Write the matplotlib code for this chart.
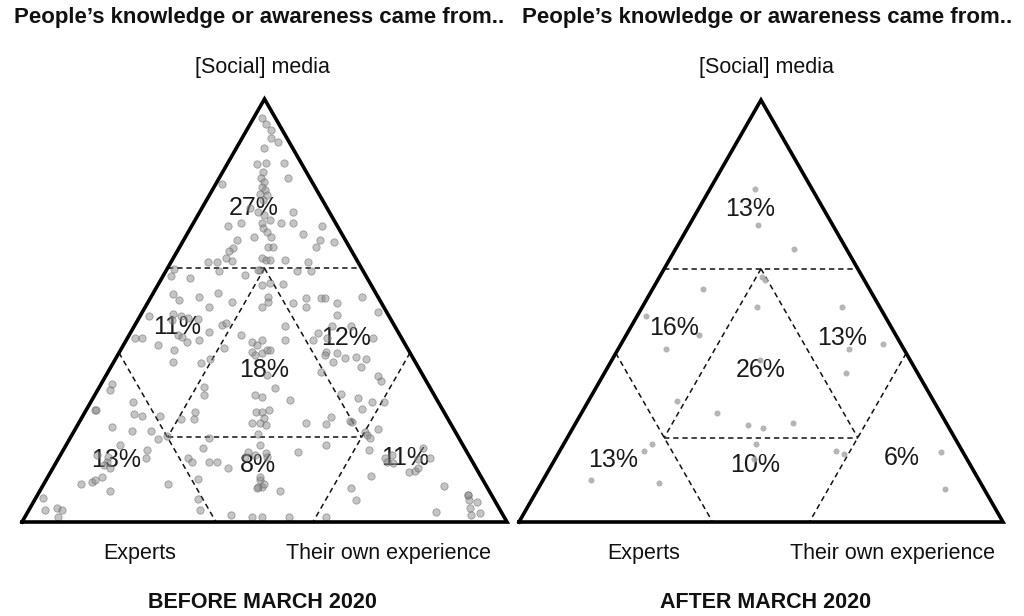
import numpy as np
import matplotlib
matplotlib.use("Agg")
import matplotlib.pyplot as plt

plt.rcParams['font.family'] = ['Liberation Sans', 'DejaVu Sans']

# Ternary shares in percent: media (top), experience (bottom right); experts = rest
before_media = [
    95.6, 94.0, 92.7, 90.7, 89.8, 88.3, 84.6, 84.9, 84.9, 82.8, 81.3, 80.3, 81.3, 79.8, 79.3, 78.5,
    77.5, 77.3, 76.1, 74.2, 73.4, 72.6, 71.4, 70.6, 73.2, 70.8, 70.8, 70.8, 70.0, 69.4, 68.6, 70.0,
    68.0, 67.4, 67.4, 66.7, 66.7, 66.3, 64.7, 64.1, 65.1, 65.1, 65.1, 62.3, 61.8, 61.5, 61.5, 62.5,
    61.9, 61.9, 61.9, 61.5,
    59.6, 59.4, 58.4, 59.4, 59.4, 57.6, 56.0, 56.4, 56.2, 53.3, 54.1, 53.3, 52.1, 52.1, 52.9, 52.9,
    52.9, 51.7, 50.9, 50.9, 51.7, 50.9, 59.8, 58.2, 53.8, 52.5, 59.6, 53.3, 48.8, 49.2, 48.8, 48.2,
    47.9, 45.0, 46.6, 47.1, 47.8, 44.2, 43.8, 42.6, 43.4, 43.4, 41.8, 40.7, 43.0, 41.1, 44.2, 42.6,
    41.8, 43.0, 40.3, 39.5, 39.9, 40.7, 40.7, 37.8, 37.5, 38.5, 32.6, 31.2, 32.0, 30.0, 30.0, 29.6,
    26.5, 26.5, 28.4, 25.5, 25.1, 25.1, 24.3, 24.3, 26.1, 26.1, 26.1, 26.5, 23.5, 23.5, 24.5, 22.9,
    22.4, 21.5, 21.5, 19.6, 20.3, 19.8, 48.9, 46.3, 43.0, 44.6, 43.0, 40.3, 39.5, 37.9, 39.9, 35.4,
    34.8, 31.6, 28.8, 23.5, 23.2, 24.8, 20.8, 49.6, 46.3, 46.3, 43.4, 43.4, 38.7, 39.1, 38.5, 36.6,
    34.5, 33.3, 30.2, 29.2, 28.4, 28.4, 26.7, 23.9, 23.6, 21.9, 21.3, 20.6, 19.9,
    18.2, 18.2, 17.0, 17.4, 16.6, 15.8, 15.8, 15.4, 14.3, 13.5, 12.7, 15.1, 15.1, 14.3, 14.3, 14.3,
    12.7, 9.5, 9.9, 10.7, 9.0, 7.3, 9.0, 10.1, 9.9, 8.3, 5.6, 2.8, 3.2, 2.8, 1.3, 5.4,
    2.8, 1.7, 1.3, 1.3, 18.2, 16.6, 16.2, 15.4, 15.4, 8.3, 8.0, 9.0, 10.7, 7.3, 1.3, 1.3,
    17.0, 15.1, 15.8, 13.9, 14.3, 17.6, 14.8, 15.1, 11.9, 12.1, 12.7, 10.9, 8.1, 5.2, 8.6, 6.4,
    6.4, 5.2, 4.8, 3.2, 2.1, 1.7, 2.4,
]
before_experience = [
    1.6, 3.3, 5.0, 6.0, 7.8, 5.7, 6.2, 7.9, 11.6, 8.2, 8.6, 9.7, 14.2, 1.4, 9.8, 10.9,
    10.3, 11.8, 11.6, 9.9, 12.0, 13.5, 15.4, 14.1, 19.3, 20.5, 18.1, 9.7, 7.4, 14.9, 16.2, 26.8,
    23.9, 14.2, 17.6, 10.9, 28.0, 31.2, 11.2, 10.7, 18.2, 19.1, 28.1, 11.0, 12.3, 7.5, 9.4, 18.2,
    19.4, 20.2, 23.3, 28.3,
    19.3, 11.0, 16.8, 27.1, 29.8, 5.8, 21.4, 22.9, 25.8, 9.9, 13.4, 24.0, 17.2, 24.6, 32.1, 35.3,
    36.0, 39.0, 13.2, 24.0, 30.1, 33.1, 1.4, 1.6, 4.3, 6.1, 18.8, 43.5, 1.8, 6.6, 8.3, 10.2,
    12.4, 16.1, 17.9, 18.5, 7.0, 10.1, 11.0, 12.7, 1.6, 3.0, 7.2, 10.9, 14.9, 21.0, 23.1, 26.1,
    27.5, 27.9, 27.2, 28.3, 29.5, 30.1, 30.7, 12.3, 18.2, 19.5, 2.2, 2.5, 21.6, 22.6, 33.0, 34.6,
    1.8, 2.1, 8.7, 10.3, 12.1, 15.9, 20.6, 23.3, 22.6, 35.3, 36.4, 37.7, 35.6, 37.3, 37.6, 38.9,
    7.3, 11.9, 15.9, 18.2, 19.7, 28.7, 40.5, 31.0, 32.7, 38.7, 38.4, 42.6, 42.7, 45.2, 45.0, 43.9,
    33.1, 36.4, 40.9, 46.8, 51.1, 51.3, 38.2, 48.5, 40.7, 44.7, 41.2, 50.6, 47.2, 49.3, 51.7, 51.6,
    56.1, 57.4, 50.7, 54.7, 57.9, 60.5, 56.8, 55.7, 56.2, 62.4, 60.1, 60.9, 61.7,
    40.0, 11.1, 17.2, 28.6, 38.4, 40.1, 7.5, 10.1, 10.3, 10.2, 11.8, 18.0, 26.7, 27.8, 31.4, 33.0,
    36.2, 9.6, 10.1, 11.1, 7.6, 14.5, 25.5, 31.2, 44.1, 45.3, 1.6, 3.3, 5.6, 6.8, 6.7, 33.5,
    35.2, 42.2, 46.7, 48.8, 53.6, 48.7, 42.2, 42.9, 38.3, 44.6, 44.4, 45.3, 43.8, 49.5, 54.3, 62.1,
    63.0, 67.3, 68.3, 69.5, 68.1, 73.8, 74.2, 76.6, 73.9, 75.0, 75.3, 66.5, 63.8, 66.3, 82.8, 88.8,
    88.8, 89.6, 91.4, 90.8, 93.4, 91.7, 84.1,
]

after_media = [
    78.9, 70.4, 64.6, 58.1, 57.3, 55.2, 50.9, 50.9, 48.8, 44.3, 40.9, 28.7, 25.9, 23.0, 22.3,
    18.5, 16.9, 18.5, 14.9, 10.0, 9.2, 38.4, 42.2, 40.9, 35.2, 23.4, 16.9, 16.1, 16.5, 7.8,
]
after_experience = [
    9.3, 14.1, 24.6, 21.1, 22.2, 10.4, 23.7, 41.2, 1.8, 15.1, 9.9, 18.2, 28.0, 35.9, 39.3,
    18.3, 17.4, 39.7, 41.2, 9.9, 24.4, 30.6, 54.2, 47.8, 50.0, 45.0, 57.0, 59.0, 79.0, 84.1,
]

title = "People\u2019s knowledge or awareness came from.."
corner_labels = ["[Social] media", "Experts", "Their own experience"]
before_pcts = ["27%", "11%", "12%", "18%", "13%", "8%", "11%"]
after_pcts = ["13%", "16%", "13%", "26%", "13%", "10%", "6%"]
panel_names = ["BEFORE MARCH 2020", "AFTER MARCH 2020"]

H = np.sqrt(3) / 2


def tern(media, exper):
    a = np.asarray(media) / 100.0
    c = np.asarray(exper) / 100.0
    return c + a / 2, a * H


def tp(a, c):
    # single ternary point (fractions) -> x, y
    return c + a / 2, a * H


def grid(ax):
    kw = dict(color='#111111', lw=1.1, ls=(0, (3.5, 2.5)), zorder=2)
    segs = [
        ((0.6, 0.0), (0.6, 0.4)),    # media = 0.6 across
        ((0.2, 0.2), (0.2, 0.6)),    # inner base media = 0.2
        ((0.4, 0.0), (0.0, 0.4)),    # experts = 0.6
        ((0.4, 0.6), (0.0, 0.6)),    # experience = 0.6
        ((0.6, 0.2), (0.2, 0.2)),    # experience = 0.2 inner
        ((0.6, 0.2), (0.2, 0.6)),    # experts = 0.2 inner
    ]
    for (a1, c1), (a2, c2) in segs:
        x1, y1 = tp(a1, c1)
        x2, y2 = tp(a2, c2)
        ax.plot([x1, x2], [y1, y2], **kw)
    ax.plot([0, 1, 0.5, 0], [0, 0, H, 0], color='black', lw=2.6,
            solid_joinstyle='miter', clip_on=False, zorder=5)


fig = plt.figure(figsize=(10.24, 6.16), dpi=100)
ax1 = fig.add_axes([22 / 1024, 94 / 616, 485 / 1024, 423 / 616])
ax2 = fig.add_axes([519 / 1024, 94 / 616, 484 / 1024, 422 / 616])

pct_pos = [(0.478, 0.643), (0.320, 0.399), (0.668, 0.377), (0.499, 0.311),
           (0.194, 0.127), (0.487, 0.117), (0.790, 0.131)]

for ax, pcts in [(ax1, before_pcts), (ax2, after_pcts)]:
    ax.set_xlim(0, 1)
    ax.set_ylim(0, H)
    ax.axis('off')
    grid(ax)
    for (x, y), t in zip(pct_pos, pcts):
        ax.text(x, y, t, ha='center', va='center', fontsize=18, color='#1a1a1a', zorder=3)

x, y = tern(before_media, before_experience)
ax1.scatter(x, y, s=28, c='#8a8a8a', alpha=0.5, edgecolors='#5a5a5a', linewidths=0.6, zorder=4)
x, y = tern(after_media, after_experience)
ax2.scatter(x, y, s=19, c='#a8a8a8', alpha=0.85, linewidths=0, zorder=4)

for cx, tx, name in [(258, 259, panel_names[0]), (762, 767, panel_names[1])]:
    fig.text(tx / 1024, 1 - 18 / 616, title, ha='center', va='center',
             fontsize=16, fontweight='bold', color='#111111')
    fig.text((cx + 4) / 1024, 1 - 67 / 616, corner_labels[0], ha='center', va='center',
             fontsize=15.5, color='#111111')
    fig.text((cx - 118) / 1024, 1 - 553 / 616, corner_labels[1], ha='center', va='center',
             fontsize=15.5, color='#111111')
    fig.text((cx + 131) / 1024, 1 - 553 / 616, corner_labels[2], ha='center', va='center',
             fontsize=15.5, color='#111111')
    fig.text((cx + 4) / 1024, 1 - 602 / 616, name, ha='center', va='center',
             fontsize=15.5, fontweight='bold', color='#111111')

fig.savefig('out.png', dpi=100)
